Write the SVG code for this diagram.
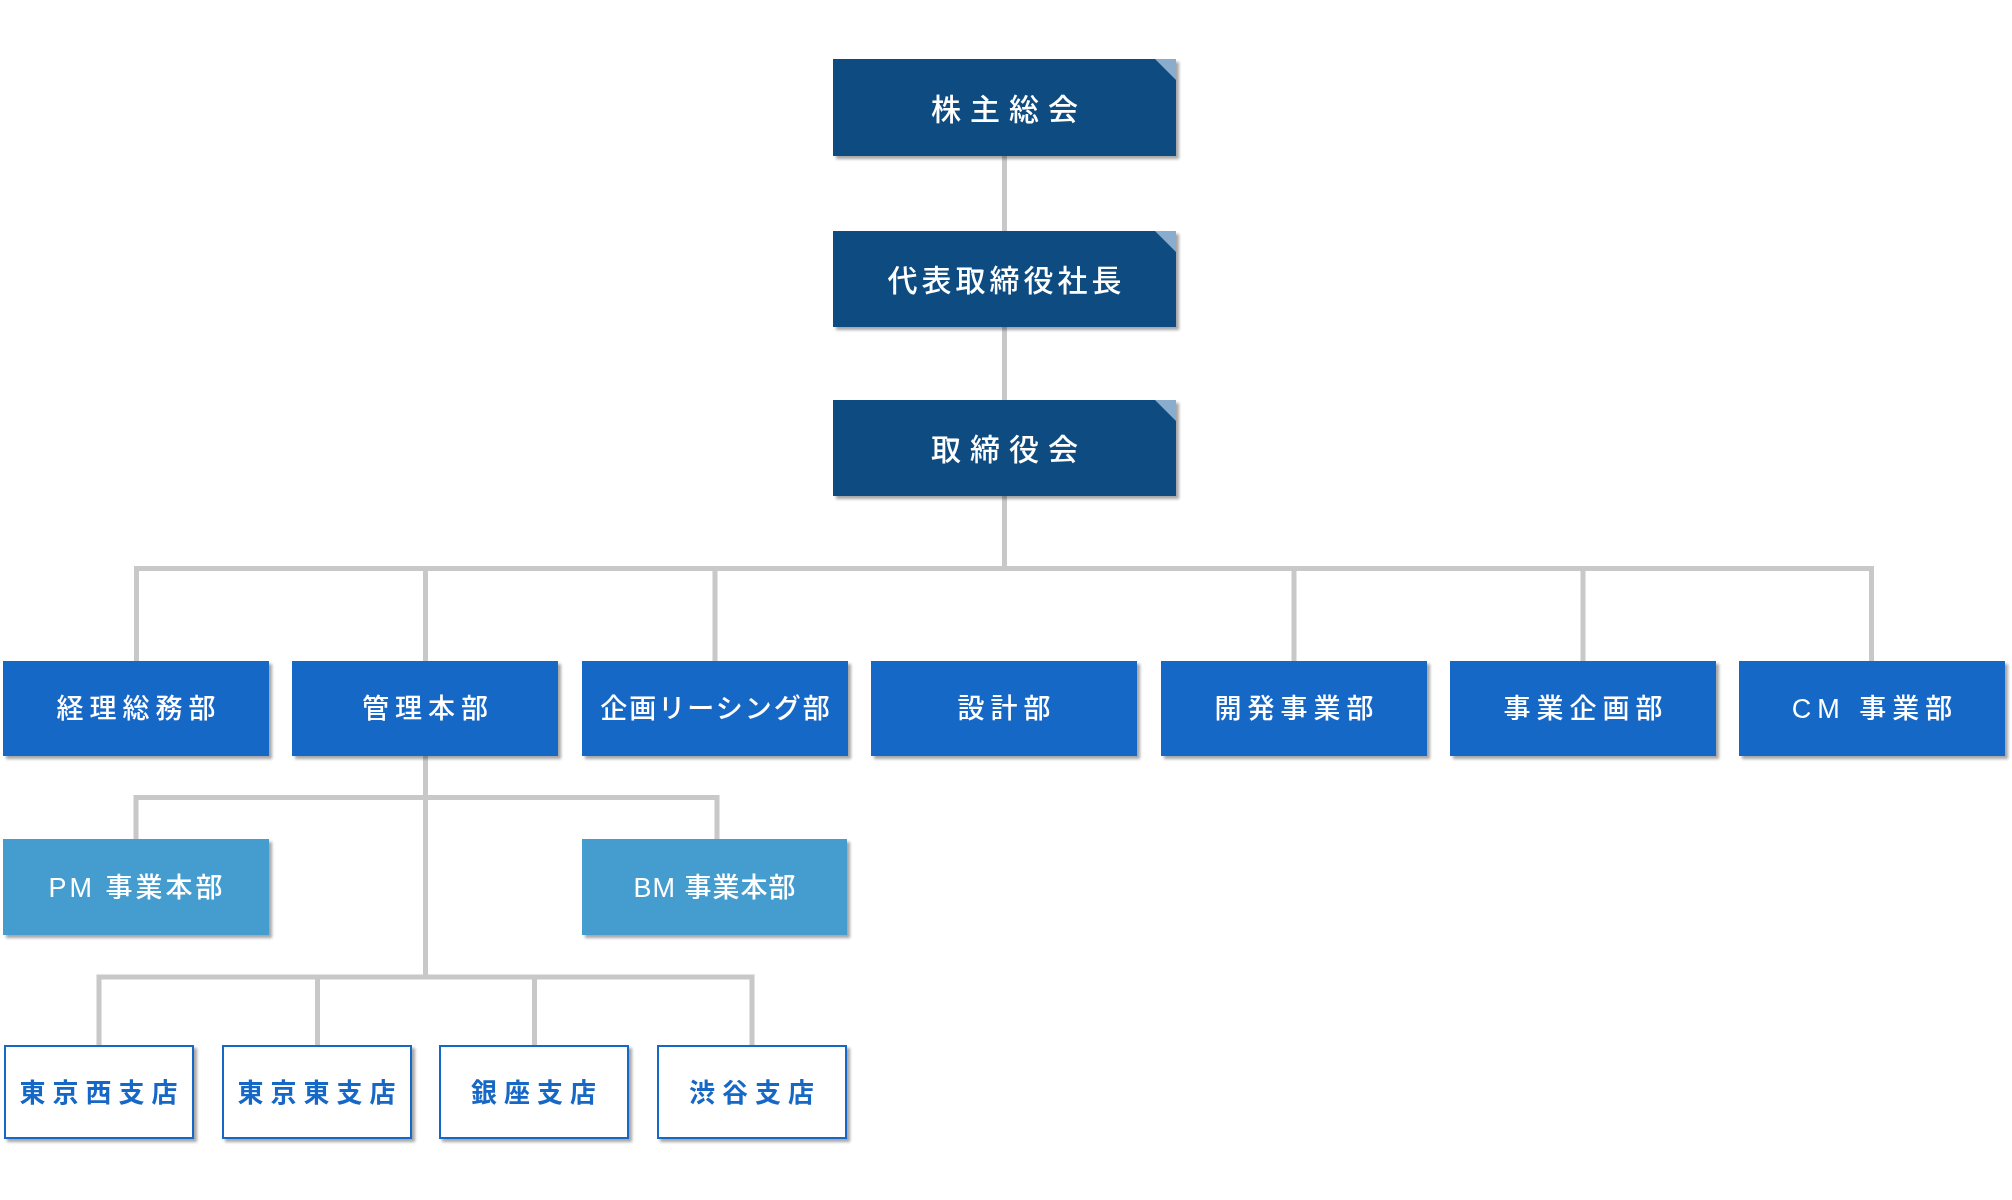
<svg xmlns="http://www.w3.org/2000/svg" width="2012" height="1200" viewBox="0 0 2012 1200">
<defs>
<filter id="sh" x="-5%" y="-10%" width="115%" height="130%">
<feDropShadow dx="3" dy="3" stdDeviation="1.8" flood-color="#000" flood-opacity="0.35"/>
</filter>
<style>
.conn{fill:none;stroke:#c8c8c8;stroke-width:5;stroke-linejoin:miter;stroke-linecap:butt}
.top{fill:#0f4c81}
.corner{fill:#8aadce}
.dept{fill:#1967c6}
.sub{fill:#459dcf}
.br{fill:#fff;stroke:#1967c6;stroke-width:2}
text{font-family:"Liberation Sans","Noto Sans CJK JP",sans-serif;text-anchor:middle;dominant-baseline:central}
.t1{fill:#fff;font-size:30px;font-weight:500}
.t3{fill:#fff;font-size:27px;font-weight:500}
.t5{fill:#1967c6;font-size:26px;font-weight:700}
</style>
</defs>
<rect width="2012" height="1200" fill="#fff"/>
<g id="connectors">
<path class="conn" d="M1004.5 156V231M1004.5 327V400M1004.5 496V568.5"/>
<path class="conn" d="M136.5 661V568.5H1871.5V661M425.5 568.5V661M715 568.5V661M1294 568.5V661M1583 568.5V661"/>
<path class="conn" d="M425.5 756V977"/>
<path class="conn" d="M136 839V797.5H717V839"/>
<path class="conn" d="M99 1045V977H752V1045M317.5 977V1045M534.5 977V1045"/>
</g>
<g id="n-kabunushi" filter="url(#sh)">
<rect class="top" x="833" y="59" width="343" height="97"/>
<polygon class="corner" points="1155,59 1176,59 1176,80"/>
<text class="t1" x="1009" y="109" letter-spacing="9">株主総会</text>
</g>
<g id="n-shacho" filter="url(#sh)">
<rect class="top" x="833" y="231" width="343" height="96"/>
<polygon class="corner" points="1155,231 1176,231 1176,252"/>
<text class="t1" x="1006.5" y="280" letter-spacing="4">代表取締役社長</text>
</g>
<g id="n-torishimariyaku" filter="url(#sh)">
<rect class="top" x="833" y="400" width="343" height="96"/>
<polygon class="corner" points="1155,400 1176,400 1176,421"/>
<text class="t1" x="1009" y="449" letter-spacing="9">取締役会</text>
</g>
<g id="n-keiri" filter="url(#sh)">
<rect class="dept" x="3" y="661" width="266" height="95"/>
<text class="t3" x="139" y="709" letter-spacing="6">経理総務部</text>
</g>
<g id="n-kanri" filter="url(#sh)">
<rect class="dept" x="292" y="661" width="266" height="95"/>
<text class="t3" x="428" y="709" letter-spacing="6">管理本部</text>
</g>
<g id="n-kikaku-leasing" filter="url(#sh)">
<rect class="dept" x="582" y="661" width="266" height="95"/>
<text class="t3" x="716" y="709" letter-spacing="2">企画リーシング部</text>
</g>
<g id="n-sekkei" filter="url(#sh)">
<rect class="dept" x="871" y="661" width="266" height="95"/>
<text class="t3" x="1007" y="709" letter-spacing="6">設計部</text>
</g>
<g id="n-kaihatsu" filter="url(#sh)">
<rect class="dept" x="1161" y="661" width="266" height="95"/>
<text class="t3" x="1297" y="709" letter-spacing="6">開発事業部</text>
</g>
<g id="n-jigyokikaku" filter="url(#sh)">
<rect class="dept" x="1450" y="661" width="266" height="95"/>
<text class="t3" x="1586" y="709" letter-spacing="6">事業企画部</text>
</g>
<g id="n-cm" filter="url(#sh)">
<rect class="dept" x="1739" y="661" width="266" height="95"/>
<text class="t3" x="1875" y="709" letter-spacing="6">CM 事業部</text>
</g>
<g id="n-pm" filter="url(#sh)">
<rect class="sub" x="3" y="839" width="266" height="96"/>
<text class="t3" x="137" y="888" letter-spacing="3">PM 事業本部</text>
</g>
<g id="n-bm" filter="url(#sh)">
<rect class="sub" x="582" y="839" width="265" height="96"/>
<text class="t3" x="715" y="888" letter-spacing="1">BM 事業本部</text>
</g>
<g id="n-tokyonishi" filter="url(#sh)">
<rect class="br" x="5" y="1046" width="188" height="92"/>
<text class="t5" x="102" y="1093" letter-spacing="7">東京西支店</text>
</g>
<g id="n-tokyohigashi" filter="url(#sh)">
<rect class="br" x="223" y="1046" width="188" height="92"/>
<text class="t5" x="320" y="1093" letter-spacing="7">東京東支店</text>
</g>
<g id="n-ginza" filter="url(#sh)">
<rect class="br" x="440" y="1046" width="188" height="92"/>
<text class="t5" x="537" y="1093" letter-spacing="7">銀座支店</text>
</g>
<g id="n-shibuya" filter="url(#sh)">
<rect class="br" x="658" y="1046" width="188" height="92"/>
<text class="t5" x="755" y="1093" letter-spacing="7">渋谷支店</text>
</g>
</svg>
